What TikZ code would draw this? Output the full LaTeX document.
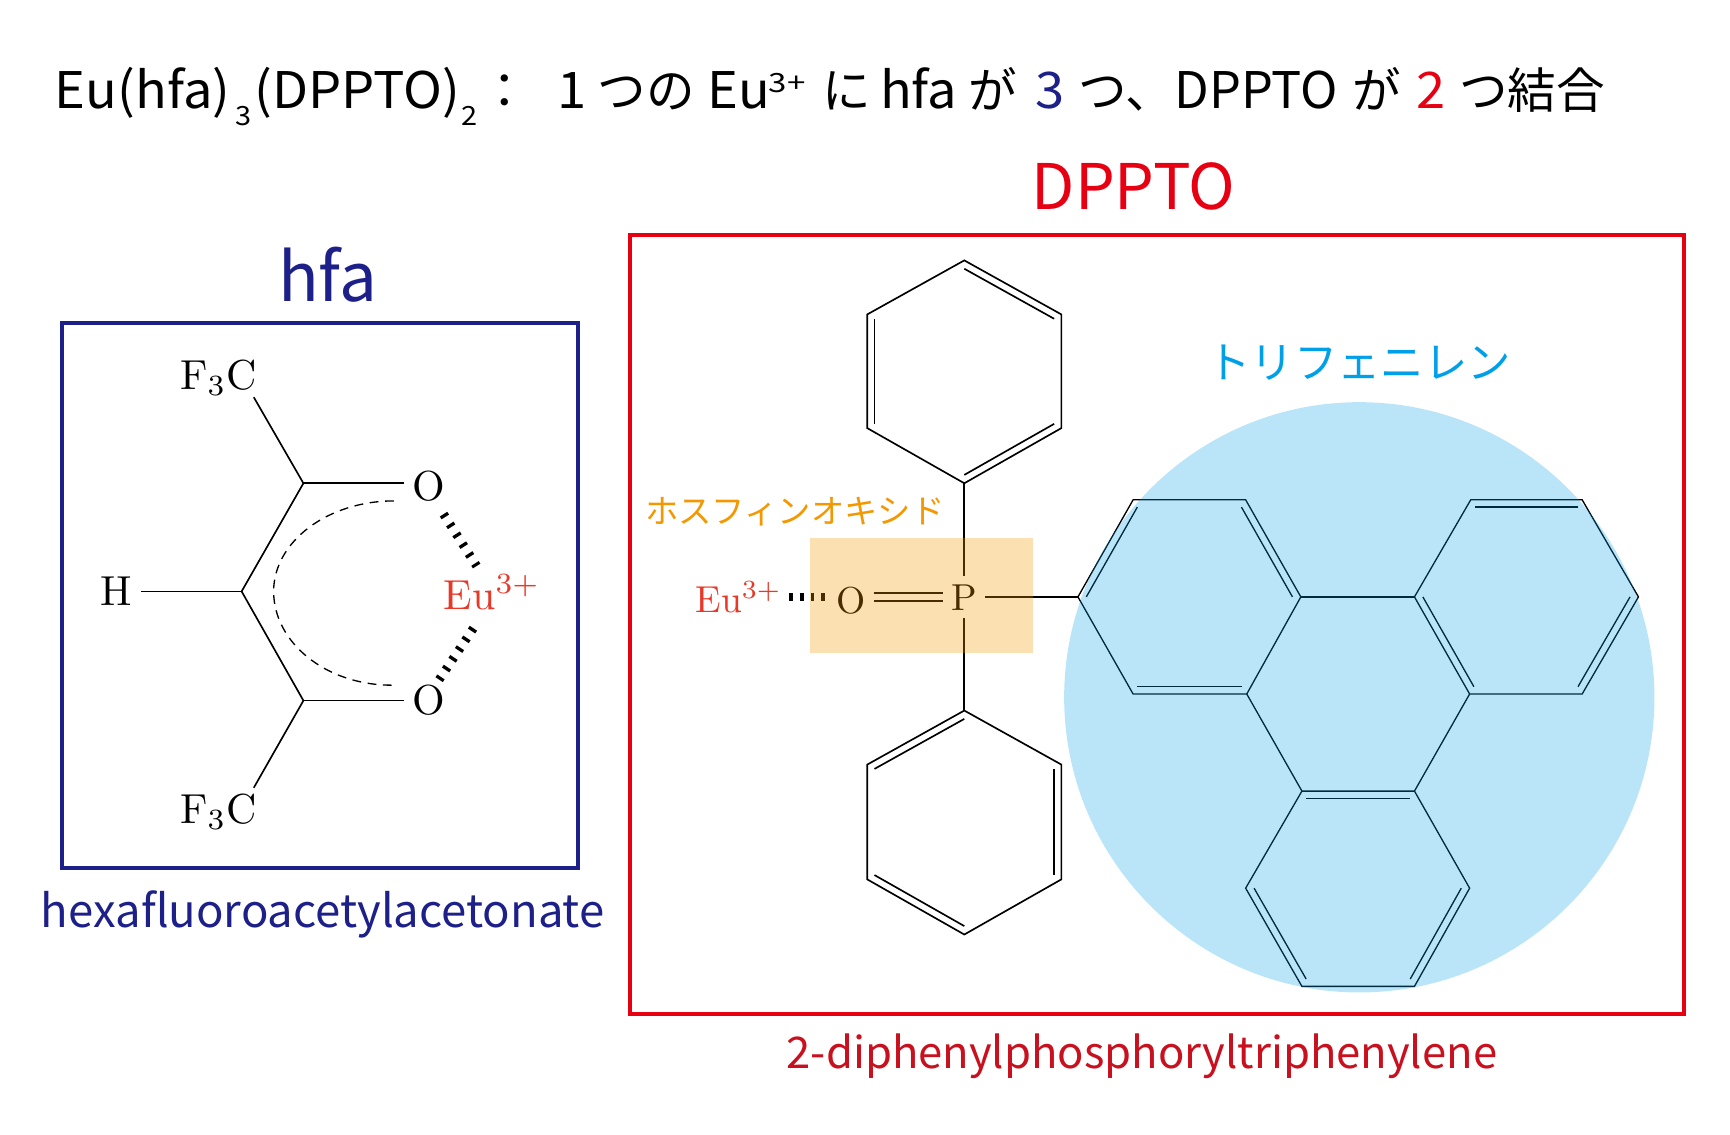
\documentclass[tikz,border=0pt]{standalone}
\usepackage{fontspec}
\newfontfamily\jp{Noto Sans CJK JP}
\newfontfamily\jpw[FakeStretch=1.04]{Noto Sans CJK JP}
\usetikzlibrary{calc}
\definecolor{hfablue}{HTML}{1D2088}
\definecolor{dpptored}{HTML}{E60012}
\definecolor{namered}{HTML}{C9101E}
\definecolor{eured}{HTML}{E83828}
\definecolor{oxorange}{HTML}{F39800}
\definecolor{triblue}{HTML}{00A0E9}
% pieces of the title line, each at its own x
\newcommand{\tp}[2]{\rlap{\hspace*{#1pt}#2}}
\newcommand{\tj}[2]{\rlap{\hspace*{#1pt}\jp\fontsize{44}{48}\selectfont #2}}
\newcommand{\tsub}[2]{\rlap{\hspace*{#1pt}\raisebox{-16pt}{\fontsize{24}{26}\selectfont\scalebox{1.05}[1]{#2}}}}
\newcommand{\tsup}[2]{\rlap{\hspace*{#1pt}\raisebox{14pt}{\fontsize{24}{26}\selectfont\scalebox{1.2}[1]{#2}}}}
% inner line of a double bond: a, b and the centre of the ring
\newcommand{\dbl}[3]{\draw ($(#3)!.925!(#1)$) -- ($(#3)!.925!(#2)$);}
\tikzset{
  bond/.style={line width=1.5pt,black},
  atom/.style={scale=3.8,inner sep=2pt,anchor=base},
  atomb/.style={scale=3.4,inner sep=2pt,anchor=base},
  hash/.style={line width=8pt,dash pattern=on 3pt off 7.6pt},
  hashb/.style={line width=7.5pt,dash pattern=on 3.5pt off 6.3pt}
}
\begin{document}
\begin{tikzpicture}[x=1pt,y=-1pt]
  \useasboundingbox (0,0) rectangle (1568,1028.7);

  \node[anchor=base west,inner sep=0,font=\jpw\fontsize{45.7}{48}\selectfont] (title) at (0,98)
    {\tp{49}{Eu(hfa)}\tsub{213}{3}\tp{230}{(DPPTO)}\tsub{418}{2}\tj{435}{：}\tp{505}{1}\tj{541}{つの}\tp{641}{Eu}\tsup{696}{3+}\tj{745}{に}\tp{797}{hfa}\tj{877}{が}\tp{938}{\textcolor{hfablue}{3}}\tj{977}{つ、}\tp{1064}{\jp DPPTO}\tj{1225}{が}\tp{1283}{\textcolor{dpptored}{2}}\tj{1322}{つ結合}};

  % hfa
  \node[anchor=base,inner sep=0,text=hfablue,font=\jp\fontsize{61}{66}\selectfont] (hfat) at (297,273) {hfa};
  \draw[hfablue,line width=3.5pt] (56,293) rectangle (524,787);
  \node[anchor=base,inner sep=0,text=hfablue,font=\jp\fontsize{41.2}{46}\selectfont] (hfan) at (292.5,841) {hexafluoroacetylacetonate};

  \coordinate (c1) at (219,536);
  \coordinate (c2) at (275,438);
  \coordinate (c3) at (275,635);
  \coordinate (f1e) at (230,360);
  \coordinate (f2e) at (230,714);
  \node[atom] (f1) at (198,353) {$\mathrm{F_3C}$};
  \node[atom] (f2) at (198,746) {$\mathrm{F_3C}$};
  \node[atom] (h1) at (105,549) {H};
  \node[atom] (o1) at (389,454) {O};
  \node[atom] (o3) at (389,648) {O};
  \node[atom,text=eured] (eu1) at (446,552) {Eu$^{3+}$};
  \coordinate (h1a) at (402,466);
  \coordinate (h1b) at (432,513);
  \coordinate (h2a) at (398,616);
  \coordinate (h2b) at (430,568);

  \draw[bond] (c1) -- (c1 -| h1.east);
  \draw[bond] (c1) -- (c2);
  \draw[bond] (c1) -- (c3);
  \draw[bond] (c2) -- (f1e);
  \draw[bond] (c3) -- (f2e);
  \draw[bond] (c2) -- (c2 -| o1.west);
  \draw[bond] (c3) -- (c3 -| o3.west);
  \draw[hash] (h1a) -- (h1b);
  \draw[hash] (h2a) -- (h2b);
  \draw[black,line width=1.2pt,dash pattern=on 8pt off 6pt] (357,454) .. controls (297,454) and (248,491) .. (248,536)
    .. controls (248,582) and (295,621) .. (355,621);

  % DPPTO
  \node[anchor=base,inner sep=0,text=dpptored,font=\jp\fontsize{57}{62}\selectfont] (dppt) at (1027.5,190) {DPPTO};
  \draw[dpptored,line width=3.5pt] (571,213) rectangle (1526,919);
  \node[anchor=base,inner sep=0,text=namered,font=\jp\fontsize{39.5}{44}\selectfont] (dppn) at (1035,968) {2-diphenylphosphoryltriphenylene};

  \node[anchor=center,inner sep=0,text=oxorange,font=\jp\fontsize{30.2}{34}\selectfont] (oxt) at (720.5,463.5) {ホスフィンオキシド};
  \node[anchor=center,inner sep=0,text=triblue,font=\jp\fontsize{39.3}{42}\selectfont] (trit) at (1232,329) {トリフェニレン};

  \coordinate (pc) at (874,541);
  \node[atomb] (p1) at (874,553) {P};
  \node[atomb] (o2) at (771,556) {O};
  \node[atomb,text=eured] (eu2) at (669.5,555) {Eu$^{3+}$};
  \coordinate (h3a) at (715,541);
  \coordinate (h3b) at (749,541);
  \draw[hashb] (h3a) -- (h3b);
  \draw[bond,double,double distance=6pt] (o2.east |- pc) -- (pc -| p1.west);

  % upper phenyl
  \coordinate (u1) at (874,236);
  \coordinate (u2) at (962,285);
  \coordinate (u3) at (962,388);
  \coordinate (u4) at (874,438);
  \coordinate (u5) at (786,388);
  \coordinate (u6) at (786,285);
  \coordinate (uc) at (874,337);
  \draw[bond] (u1) -- (u2) -- (u3) -- (u4) -- (u5) -- (u6) -- cycle;
  \begin{scope}[bond]
    \dbl{u1}{u2}{uc}
    \dbl{u3}{u4}{uc}
    \dbl{u5}{u6}{uc}
  \end{scope}

  % lower phenyl
  \coordinate (d1) at (874,644);
  \coordinate (d2) at (962,693);
  \coordinate (d3) at (962,797);
  \coordinate (d4) at (874,847);
  \coordinate (d5) at (786,797);
  \coordinate (d6) at (786,693);
  \coordinate (dc) at (874,745);
  \draw[bond] (d1) -- (d2) -- (d3) -- (d4) -- (d5) -- (d6) -- cycle;
  \begin{scope}[bond]
    \dbl{d1}{d6}{dc}
    \dbl{d2}{d3}{dc}
    \dbl{d4}{d5}{dc}
  \end{scope}

  \draw[bond] (u4) -- (p1.north);
  \draw[bond] (d1) -- (p1.south);

  % triphenylene
  \coordinate (a1) at (977,541);
  \coordinate (a2) at (1027,453);
  \coordinate (a3) at (1129,453);
  \coordinate (a4) at (1179,541);
  \coordinate (a5) at (1130,629);
  \coordinate (a6) at (1027,629);
  \coordinate (ac) at (1078,541);
  \coordinate (b1) at (1282,541);
  \coordinate (b2) at (1333,453);
  \coordinate (b3) at (1434,453);
  \coordinate (b4) at (1485,541);
  \coordinate (b5) at (1434,629);
  \coordinate (b6) at (1332,629);
  \coordinate (bc) at (1383.5,541);
  \coordinate (e1) at (1180,717);
  \coordinate (e2) at (1282,717);
  \coordinate (e3) at (1332,805);
  \coordinate (e4) at (1282,894);
  \coordinate (e5) at (1180,894);
  \coordinate (e6) at (1129,805);
  \coordinate (ec) at (1231,805);

  \draw[bond,line width=1.2pt] (p1.east |- a1) -- (a1);
  \begin{scope}[bond,line width=1.2pt]
    \draw (a1) -- (a2) -- (a3) -- (a4) -- (a5) -- (a6) -- cycle;
    \draw (b1) -- (b2) -- (b3) -- (b4) -- (b5) -- (b6) -- cycle;
    \draw (e1) -- (e2) -- (e3) -- (e4) -- (e5) -- (e6) -- cycle;
    \draw (a4) -- (b1);
    \draw (a5) -- (e1);
    \draw (b6) -- (e2);
    \dbl{a1}{a2}{ac}
    \dbl{a3}{a4}{ac}
    \dbl{a5}{a6}{ac}
    \dbl{b1}{b6}{bc}
    \dbl{b2}{b3}{bc}
    \dbl{b4}{b5}{bc}
    \dbl{e1}{e2}{ec}
    \dbl{e3}{e4}{ec}
    \dbl{e5}{e6}{ec}
  \end{scope}

  % highlights, over the lines
  \fill[oxorange,opacity=.3] (734,488) rectangle (936,592);
  \fill[triblue,opacity=.27] (1232,632) circle (267.5);
\end{tikzpicture}
\end{document}
